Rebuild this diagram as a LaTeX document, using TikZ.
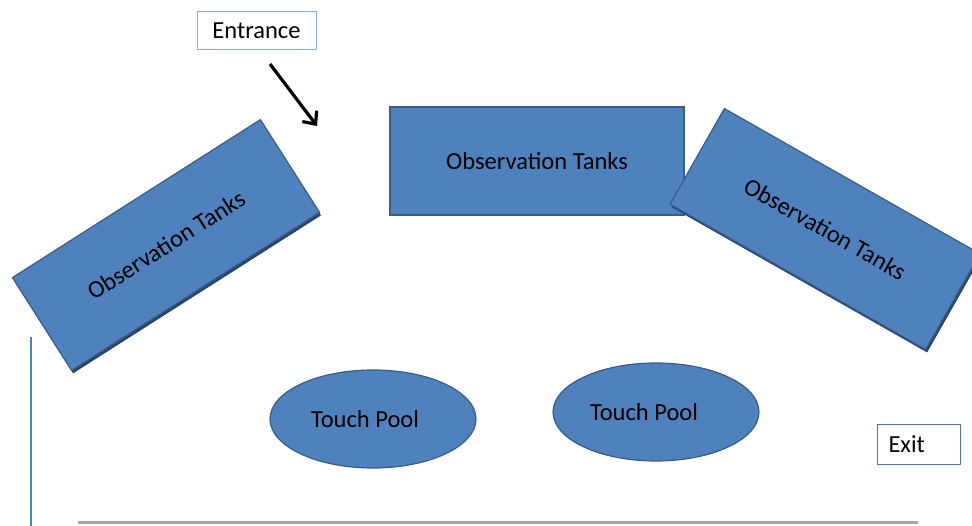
\documentclass[tikz,border=0pt]{standalone}
\usepackage{fontspec}
\setmainfont{Carlito}
\usetikzlibrary{arrows.meta,shapes.geometric,shadows}
\definecolor{tankblue}{HTML}{4F81BD}
\definecolor{tankedge}{HTML}{385D8A}
\definecolor{signedge}{HTML}{8EAADB}
\definecolor{exitedge}{HTML}{5272A0}
\definecolor{floorline}{HTML}{A6A6A6}
\begin{document}
\begin{tikzpicture}[
  x=1pt,y=-1pt,
  txt/.style={font=\fontsize{24.5}{29}\selectfont},
  tank/.style={txt,draw=tankedge,fill=tankblue,line width=1.2pt,minimum width=294pt,minimum height=110pt,inner sep=0pt},
  tankshadow/.style={drop shadow={shadow xshift=1.5pt,shadow yshift=-3pt,fill=tankedge!75!black,opacity=1}},
  pool/.style={txt,ellipse,draw=tankedge,fill=tankblue,line width=1.2pt,minimum width=206pt,minimum height=98pt,inner sep=0pt},
  sign/.style={txt,draw=signedge,fill=white,line width=1pt,inner sep=0pt},
  arr/.style={-{Straight Barb[length=10pt,width=18pt]},line width=3.2pt}
]
\useasboundingbox (0,0) rectangle (972,526);
% walls
\draw[tankblue,line width=1.2pt] (31,337) -- (31,526);
\draw[floorline,line width=3pt] (78,522) -- (918,522);
% tanks
\node[tank,tankshadow,rotate=32.5] (tankL) at (166,245) {Observation Tanks};
\node[tank,minimum height=108pt] (tankM) at (537,161) {Observation Tanks};
\node[tank,tankshadow,rotate=-29.6] (tankR) at (825,229) {Observation Tanks};
% pools
\node[pool] (poolL) at (373,419) {\hspace*{-16pt}Touch Pool};
\node[pool] (poolR) at (656,412) {\hspace*{-24pt}Touch Pool};
% signs
\node[sign,minimum width=119pt,minimum height=38pt] (entr) at (256.5,30.5) {Entrance};
\node[sign,draw=exitedge,text width=60pt,align=left,inner xsep=11.5pt,minimum height=40pt] (exit) at (918.5,444.5) {Exit};
\coordinate (arrS) at (270,64);
\coordinate (arrE) at (317,126);
\draw[arr] (arrS) -- (arrE);
\end{tikzpicture}
\end{document}
